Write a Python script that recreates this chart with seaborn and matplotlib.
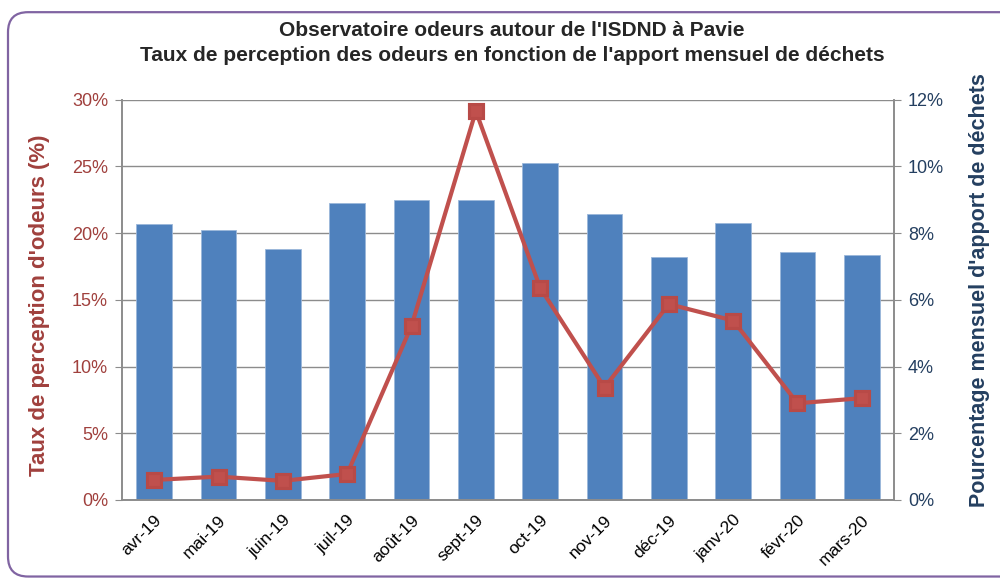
import matplotlib
matplotlib.use("Agg")
import matplotlib.pyplot as plt
import matplotlib.patches as mpatches
from matplotlib.ticker import FixedLocator, PercentFormatter
import seaborn as sns

# --- Data ---
months = ['avr-19', 'mai-19', 'juin-19', 'juil-19', 'août-19', 'sept-19',
          'oct-19', 'nov-19', 'déc-19', 'janv-20', 'févr-20', 'mars-20']
apport_pct = [8.27, 8.09, 7.53, 8.91, 8.99, 8.99,
              10.09, 8.58, 7.28, 8.30, 7.43, 7.35]
perception_pct = [1.5, 1.75, 1.43, 1.95, 13.05, 29.15,
                  15.9, 8.43, 14.68, 13.45, 7.25, 7.63]

# --- Style ---
BAR_COLOR = '#4F81BD'
LINE_COLOR = '#C0504D'
LEFT_TXT = '#A0403D'
RIGHT_TXT = '#243F60'
GRID_COLOR = '#8C8C8C'

sns.set_style('white')
plt.rcParams['font.family'] = ['Liberation Sans', 'DejaVu Sans']

fig = plt.figure(figsize=(10, 5.8), dpi=100)
ax = fig.add_axes([0.122, 0.138, 0.772, 0.690])
ax2 = ax.twinx()

# bars on the right axis (behind), line on the left axis (front)
sns.barplot(x=months, y=apport_pct, ax=ax2, color=BAR_COLOR, width=0.55,
            saturation=1, edgecolor='#9BB7DA', linewidth=0.6, zorder=2)
sns.pointplot(x=months, y=perception_pct, ax=ax, color=LINE_COLOR,
              markers='s', linestyles='-', markersize=9.5, linewidth=3,
              markeredgecolor='#B84A47', zorder=3)

ax.set_zorder(ax2.get_zorder() + 1)
ax.patch.set_visible(False)

# --- Axes scales ---
ax.set_xlim(-0.5, len(months) - 0.5)
ax.set_ylim(0, 30)
ax2.set_ylim(0, 12)
ax.set_yticks(range(0, 31, 5))
ax2.set_yticks(range(0, 13, 2))
ax.yaxis.set_major_formatter(PercentFormatter(decimals=0))
ax2.yaxis.set_major_formatter(PercentFormatter(decimals=0))

ax2.grid(axis='y', color=GRID_COLOR, linewidth=1.0)
ax2.set_axisbelow(True)
ax.grid(False)

# x ticks: labels at centers, tick marks between categories
ax.set_xticks(range(len(months)))
ax.set_xticklabels(months, rotation=45, ha='right', rotation_mode='anchor',
                   fontsize=12.5, color='#000000')
ax.xaxis.set_minor_locator(FixedLocator([i - 0.5 for i in range(len(months) + 1)]))
ax.tick_params(axis='x', which='major', length=0, pad=9)
ax.tick_params(axis='x', which='minor', length=5, color=GRID_COLOR, direction='out')
ax2.tick_params(axis='x', which='both', length=0)

ax.tick_params(axis='y', length=5, color=GRID_COLOR, direction='out',
               labelcolor=LEFT_TXT, labelsize=13, pad=5)
ax2.tick_params(axis='y', length=5, color=GRID_COLOR, direction='out',
                labelcolor=RIGHT_TXT, labelsize=13, pad=5)

for a in (ax, ax2):
    a.set_xlabel('')
    a.set_ylabel('')
    a.spines['top'].set_visible(False)
    for side in ('left', 'right', 'bottom'):
        a.spines[side].set_color(GRID_COLOR)
        a.spines[side].set_linewidth(1.2)

# --- Texts ---
fig.text(0.512, 0.947, "Observatoire odeurs autour de l'ISDND à Pavie",
         ha='center', va='center', fontsize=15, fontweight='bold')
fig.text(0.512, 0.905, "Taux de perception des odeurs en fonction de l'apport mensuel de déchets",
         ha='center', va='center', fontsize=15, fontweight='bold')
fig.text(0.040, 0.474, "Taux de perception d'odeurs (%)", rotation=90,
         ha='center', va='center', fontsize=16, fontweight='bold', color=LEFT_TXT)
fig.text(0.980, 0.50, "Pourcentage mensuel d'apport de déchets", rotation=90,
         ha='center', va='center', fontsize=15.5, fontweight='bold', color=RIGHT_TXT)

# rounded purple frame
frame = mpatches.FancyBboxPatch((0.008, 0.006), 1.2, 0.973,
                                boxstyle='round,pad=0,rounding_size=0.02',
                                mutation_aspect=1000 / 580,
                                transform=fig.transFigure, facecolor='none',
                                edgecolor='#8064A2', linewidth=1.6)
fig.patches.append(frame)

fig.savefig('out.png', dpi=100)
